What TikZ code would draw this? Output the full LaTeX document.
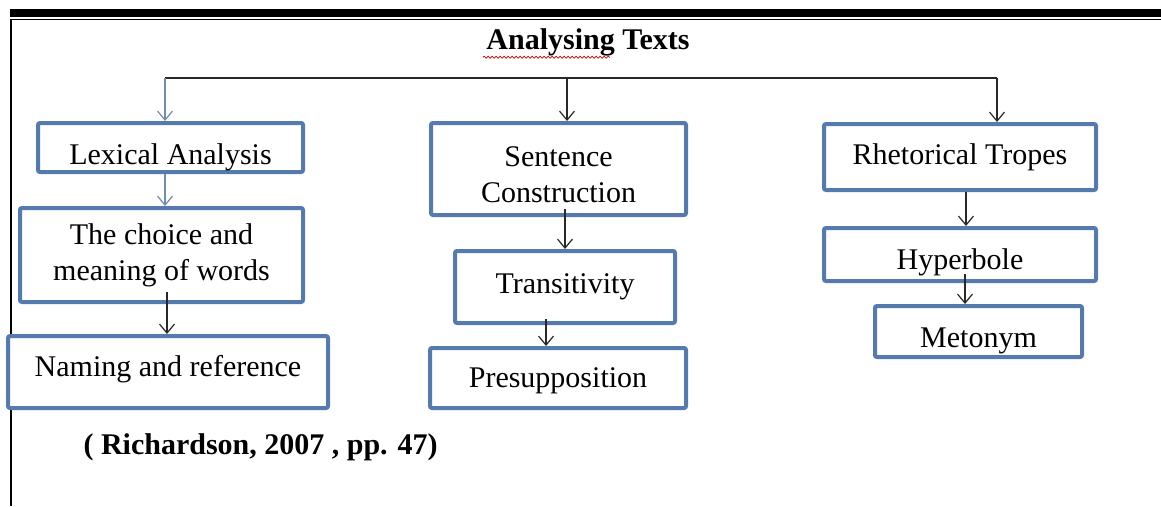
\documentclass[tikz,border=0pt]{standalone}
\usepackage{fontspec}
\setmainfont{Liberation Serif}
\usepackage{xcolor}
\usetikzlibrary{arrows.meta,decorations.pathmorphing}
\definecolor{boxblue}{RGB}{84,122,174}
\definecolor{linkblue}{RGB}{112,140,178}
\definecolor{linkgray}{RGB}{40,40,40}
% strut that sets the text lower in its box
\newcommand{\lowered}[2]{\rule[-7pt]{0pt}{#1}#2}
\begin{document}
\begin{tikzpicture}[x=1pt,y=-1pt,font=\fontsize{30}{36}\selectfont,
  >={Straight Barb[length=9pt,width=15pt]},
  box/.style={draw=boxblue,line width=4pt,rounded corners=2pt,fill=white,align=center,inner sep=0pt},
  link/.style={->,draw=linkgray,line width=1.2pt},
  softlink/.style={->,draw=linkblue,line width=1.2pt}]
  \useasboundingbox (0,0) rectangle (1161,506);
  % page frame
  \fill (10,8.5) rectangle (1161,17);
  \draw[line width=1.5pt] (10,19.5) -- (1161,19.5);
  \draw[line width=1.5pt] (11,19) -- (11,506);
  % title
  \node[font=\fontsize{30}{36}\selectfont\bfseries] (title) at (588,42) {Analysing Texts};
  \draw[red!80!black,line width=0.8pt,decorate,decoration={snake,amplitude=1pt,segment length=4pt}]
    ([xshift=0pt,yshift=2pt]title.south west) -- ++(127,0);
  % boxes
  \node[box,minimum width=265pt,minimum height=49pt] (lex) at (170.5,147.5) {\lowered{47pt}{Lexical Analysis}};
  \node[box,minimum width=283pt,minimum height=94pt] (choice) at (161.5,255) {The choice and\\ meaning of words};
  \node[box,minimum width=320pt,minimum height=72pt] (naming) at (168,372) {\rule[-13pt]{0pt}{1pt}Naming and reference};
  \node[box,minimum width=255pt,minimum height=92pt] (sent) at (558.5,169) {\rule{0pt}{31pt}Sentence\\ Construction};
  \node[box,minimum width=220pt,minimum height=72pt] (trans) at (565,287) {Transitivity};
  \node[box,minimum width=256pt,minimum height=60pt] (presup) at (558,378) {\lowered{33pt}{Presupposition}};
  \node[box,minimum width=272pt,minimum height=66pt] (rhet) at (960,157) {Rhetorical Tropes};
  \node[box,minimum width=272pt,minimum height=53pt] (hyper) at (960,254.5) {\lowered{43pt}{Hyperbole}};
  \node[box,minimum width=207pt,minimum height=51pt] (meton) at (978.5,331.5) {\lowered{45pt}{Metonym}};
  \node[font=\fontsize{30}{36}\selectfont\bfseries,anchor=west] (cite) at (80,447) {( Richardson, 2007 , pp. 47)};
  % top branch
  \coordinate (hub) at (567,78);
  \coordinate (hubL) at ([xshift=-5.5pt]lex.north |- hub);
  \coordinate (hubR) at ([xshift=37pt]rhet.north |- hub);
  \draw[draw=linkgray,line width=1.2pt] (hubL) -- (hubR);
  \draw[softlink] (hubL) -- (hubL |- lex.north);
  \draw[link] (hub) -- (hub |- sent.north);
  \draw[link] (hubR) -- (hubR |- rhet.north);
  % columns
  \draw[softlink] ([xshift=-5.5pt]lex.south) -- ([xshift=-5.5pt]lex.south |- choice.north);
  \draw[link] ([xshift=5.5pt,yshift=12pt]choice.south) -- ([xshift=5.5pt]choice.south |- naming.north);
  \draw[link] ([xshift=6.5pt,yshift=8pt]sent.south) -- ([xshift=6.5pt]sent.south |- trans.north);
  \draw[link] ([xshift=-19pt,yshift=6pt]trans.south) -- ([xshift=-19pt]trans.south |- presup.north);
  \draw[link] ([xshift=6pt]rhet.south) -- ([xshift=6pt]rhet.south |- hyper.north);
  \draw[link] ([xshift=5pt,yshift=9pt]hyper.south) -- ([xshift=5pt]hyper.south |- meton.north);
\end{tikzpicture}
\end{document}
